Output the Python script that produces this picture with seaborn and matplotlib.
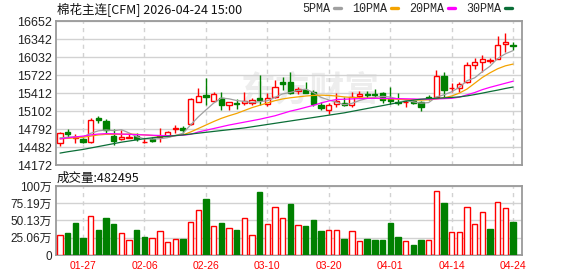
import numpy as np
import pandas as pd
import matplotlib
matplotlib.use("Agg")
import matplotlib.pyplot as plt
from matplotlib.lines import Line2D
import seaborn as sns

# ---------------- data ----------------
dates = ["01-22", "01-23", "01-26", "01-27", "01-28", "01-29", "01-30", "02-02", "02-03", "02-04",
         "02-05", "02-06", "02-09", "02-10", "02-11", "02-12", "02-13", "02-24", "02-25", "02-26",
         "02-27", "03-02", "03-03", "03-04", "03-05", "03-06", "03-09", "03-10", "03-11", "03-12",
         "03-13", "03-16", "03-17", "03-18", "03-19", "03-20", "03-23", "03-24", "03-25", "03-26",
         "03-27", "03-30", "03-31", "04-01", "04-02", "04-03", "04-07", "04-08", "04-09", "04-10",
         "04-13", "04-14", "04-15", "04-16", "04-17", "04-20", "04-21", "04-22", "04-23", "04-24"]

opens = [14552, 14733, 14640, 14622, 14564, 14979, 14932, 14669, 14622, 14640,
         14675, 14570, 14622, 14660, 14675, 14786, 14815, 14886, 15263, 15378,
         15280, 15320, 15205, 15240, 15234, 15234, 15320, 15230, 15337, 15610,
         15595, 15447, 15464, 15430, 15205, 15120, 15220, 15234, 15210, 15355,
         15389, 15389, 15410, 15315, 15263, 15257, 15280, 15257, 15337, 15349,
         15705, 15492, 15492, 15600, 15894, 15952, 15965, 16005, 16250, 16245]
highs = [14735, 14798, 14710, 14640, 14979, 15020, 14962, 14786, 14769, 14698,
         14728, 14640, 14652, 14815, 14757, 14856, 14845, 15320, 15504, 15670,
         15435, 15435, 15260, 15310, 15435, 15320, 15722, 15406, 15636, 15680,
         15780, 15507, 15607, 15464, 15250, 15234, 15406, 15335, 15435, 15440,
         15452, 15475, 15430, 15520, 15406, 15303, 15300, 15280, 15378, 15808,
         15780, 15590, 15610, 15940, 16009, 16066, 16020, 16400, 16445, 16290]
lows = [14494, 14652, 14552, 14546, 14555, 14903, 14698, 14511, 14611, 14630,
        14581, 14552, 14575, 14570, 14652, 14728, 14728, 14862, 15251, 15200,
        15263, 15119, 15119, 15130, 15205, 15205, 15205, 15195, 15320, 15470,
        15395, 15395, 15406, 15190, 15119, 15045, 15177, 15180, 15177, 15330,
        15320, 15337, 15234, 15220, 15205, 15177, 15230, 15110, 15292, 15320,
        15320, 15435, 15435, 15585, 15830, 15779, 15923, 15990, 16124, 16155]
closes = [14728, 14698, 14657, 14564, 14944, 14940, 14769, 14593, 14652, 14660,
          14628, 14575, 14590, 14670, 14745, 14810, 14768, 15313, 15366, 15345,
          15395, 15205, 15251, 15215, 15270, 15295, 15291, 15320, 15510, 15570,
          15412, 15480, 15418, 15223, 15148, 15197, 15278, 15205, 15335, 15400,
          15378, 15372, 15285, 15280, 15234, 15263, 15240, 15170, 15330, 15705,
          15458, 15500, 15561, 15894, 15952, 15992, 15972, 16233, 16284, 16230]

# volume, unit: 万 (10k)
volumes = [28.9, 32.3, 46.7, 25.0, 56.8, 35.6, 54.0, 45.3, 31.8, 22.1,
           35.6, 26.5, 25.0, 35.2, 19.3, 23.6, 23.6, 48.2, 65.5, 81.4,
           42.0, 46.7, 39.5, 37.0, 54.0, 28.9, 92.0, 45.3, 69.4, 54.0,
           74.2, 43.8, 42.3, 51.0, 35.2, 36.6, 36.6, 23.6, 35.2, 20.7,
           23.6, 22.1, 22.1, 45.8, 26.5, 20.7, 14.9, 22.1, 21.7, 92.6,
           75.6, 33.3, 33.3, 69.4, 44.9, 62.2, 38.1, 76.7, 68.0, 48.2495]

ma5 = [14640, 14650, 14660, 14655, 14718, 14760, 14775, 14763, 14780, 14724,
       14660, 14622, 14619, 14624, 14642, 14678, 14717, 14861, 15000, 15120,
       15237, 15325, 15312, 15282, 15267, 15247, 15264, 15278, 15337, 15397,
       15421, 15458, 15478, 15421, 15336, 15293, 15253, 15210, 15233, 15283,
       15319, 15337, 15354, 15343, 15310, 15287, 15260, 15237, 15247, 15342,
       15381, 15433, 15511, 15624, 15673, 15780, 15874, 16009, 16087, 16142]
ma10 = [14625, 14630, 14640, 14650, 14670, 14690, 14700, 14700, 14700, 14705,
        14700, 14690, 14680, 14670, 14670, 14680, 14690, 14740, 14800, 14860,
        14920, 14975, 15020, 15060, 15110, 15160, 15200, 15240, 15280, 15310,
        15330, 15345, 15360, 15370, 15375, 15370, 15360, 15345, 15335, 15330,
        15325, 15320, 15315, 15310, 15305, 15300, 15295, 15290, 15295, 15310,
        15330, 15360, 15410, 15480, 15580, 15680, 15760, 15830, 15880, 15910]
ma20 = [14620, 14640, 14655, 14670, 14690, 14705, 14712, 14710, 14705, 14700,
        14695, 14690, 14685, 14680, 14678, 14678, 14685, 14700, 14740, 14770,
        14800, 14830, 14860, 14885, 14910, 14935, 14960, 14990, 15020, 15060,
        15100, 15130, 15165, 15200, 15240, 15275, 15300, 15305, 15310, 15315,
        15318, 15320, 15320, 15318, 15315, 15312, 15310, 15305, 15305, 15310,
        15315, 15320, 15340, 15380, 15420, 15470, 15510, 15545, 15580, 15615]
ma30 = [14377, 14400, 14420, 14440, 14465, 14490, 14515, 14540, 14565, 14585,
        14605, 14625, 14640, 14655, 14665, 14678, 14690, 14705, 14720, 14735,
        14750, 14765, 14780, 14795, 14810, 14830, 14850, 14870, 14890, 14910,
        14930, 14950, 14970, 14990, 15010, 15030, 15050, 15070, 15095, 15120,
        15145, 15170, 15195, 15220, 15245, 15270, 15290, 15305, 15315, 15322,
        15328, 15335, 15345, 15362, 15385, 15410, 15437, 15462, 15490, 15515]

price_ticks = [14172, 14482, 14792, 15102, 15412, 15722, 16032, 16342, 16652]
vol_ticks = [0, 25.06, 50.13, 75.19, 100.25]
vol_tick_labels = ["0", "25.06万", "50.13万", "75.19万", "100万"]
date_ticks = ["01-27", "02-06", "02-26", "03-10", "03-20", "04-01", "04-14", "04-24"]
ma_names = ["5PMA", "10PMA", "20PMA", "30PMA"]
title = "棉花主连[CFM] 2026-04-24 15:00"

# ---------------- style ----------------
sns.set_theme(style="white")
plt.rcParams["font.family"] = ["Liberation Sans", "Noto Sans CJK SC", "DejaVu Sans"]

RED = "#ff0000"
GREEN = "#008000"
GRID = "#d2d2d2"
SPINE = "#9a9a9a"
MA_COLORS = ["#a0a0a0", "#f4a300", "#ff00ff", "#0b6e37"]

W, H = 578, 276
fig = plt.figure(figsize=(W / 100, H / 100), dpi=100)
ax = fig.add_axes([56 / W, 1 - 165 / H, 466 / W, 144 / H])
axv = fig.add_axes([56 / W, 1 - 255 / H, 466 / W, 69 / H])

n = len(closes)
idx = np.arange(n)
o = np.array(opens, dtype=float)
c = np.array(closes, dtype=float)
hi = np.array(highs, dtype=float)
lo = np.array(lows, dtype=float)
up = c >= o
edge_cols = [RED if u else GREEN for u in up]
face_cols = ["white" if u else GREEN for u in up]

# watermark
ax.text(0.545, 0.52, "东方财富", transform=ax.transAxes, fontsize=25, color="#ededed",
        ha="center", va="center", zorder=0.5, fontweight="bold",
        family=["Noto Sans CJK SC"])

# candles
ax.vlines(idx, lo, hi, colors=edge_cols, linewidth=1, zorder=2)
ax.bar(idx, np.abs(c - o), bottom=np.minimum(o, c), width=0.68,
       color=face_cols, edgecolor=edge_cols, linewidth=1, zorder=3)

# moving averages
df = pd.DataFrame({"idx": idx, "5PMA": ma5, "10PMA": ma10, "20PMA": ma20, "30PMA": ma30})
for name, col in zip(ma_names, MA_COLORS):
    sns.lineplot(data=df, x="idx", y=name, color=col, linewidth=0.9, ax=ax,
                 legend=False, zorder=4)

# volume bars (colour by close vs previous close)
vol_up = [True] + [closes[i] >= closes[i - 1] for i in range(1, n)]
vdf = pd.DataFrame({"idx": idx, "vol": volumes})
sns.barplot(data=vdf, x="idx", y="vol", native_scale=True, width=0.7,
            errorbar=None, ax=axv, zorder=3)
for p, u in zip(axv.patches, vol_up):
    p.set_facecolor("white" if u else GREEN)
    p.set_edgecolor(RED if u else GREEN)
    p.set_linewidth(1)

tick_pos = [dates.index(d) for d in date_ticks]

for a in (ax, axv):
    a.set_xlim(-0.52, 60.16)
    a.set_xlabel("")
    a.set_ylabel("")
    a.set_xticks(tick_pos)
    a.set_axisbelow(True)
    a.yaxis.grid(True, color=GRID, linewidth=1, linestyle="-")
    a.xaxis.grid(True, color=GRID, linewidth=1, linestyle=(0, (3, 3)))
    for s in a.spines.values():
        s.set_visible(True)
        s.set_color(SPINE)
        s.set_linewidth(1.3)
    a.tick_params(length=0)

ax.set_ylim(price_ticks[0], price_ticks[-1])
ax.set_yticks(price_ticks)
ax.set_yticklabels([str(t) for t in price_ticks], fontsize=9, color="#222222")
ax.tick_params(axis="y", pad=3)
ax.set_xticklabels([])

axv.set_ylim(vol_ticks[0], vol_ticks[-1])
axv.set_yticks(vol_ticks)
axv.set_yticklabels(vol_tick_labels, fontsize=8.5, color="#222222")
axv.tick_params(axis="y", pad=3)
axv.set_xticklabels(date_ticks, fontsize=7.5, color=RED)
axv.tick_params(axis="x", pad=4)

# texts
fig.text(57 / W, 1 - 9 / H, title, fontsize=9, ha="left", va="center",
         family=["Noto Sans CJK SC", "DejaVu Sans"], color="#111111")
vol_label = "成交量:" + str(int(round(volumes[-1] * 10000)))
fig.text(57 / W, 1 - 178 / H, vol_label, fontsize=9, ha="left", va="center",
         family=["Noto Sans CJK SC", "DejaVu Sans"], color="#111111")

handles = [Line2D([0], [0], color=col, linewidth=2.4) for col in MA_COLORS]
fig.legend(handles, ma_names, loc="center right", bbox_to_anchor=(512 / W, 1 - 9 / H),
           bbox_transform=fig.transFigure, ncol=4, frameon=False, markerfirst=False,
           handlelength=0.6, handletextpad=0.35, columnspacing=0.9, borderaxespad=0,
           borderpad=0, prop={"family": "Liberation Mono", "size": 8.5})

fig.savefig("out.png", dpi=100)
